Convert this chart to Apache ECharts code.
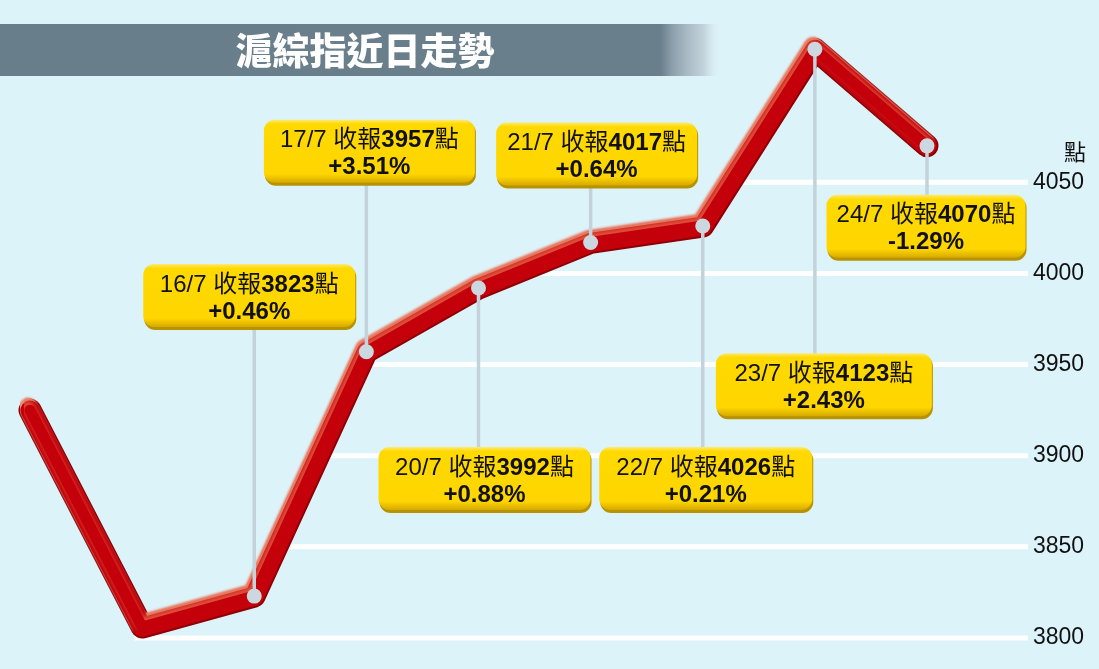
<!DOCTYPE html>
<html>
<head>
<meta charset="utf-8">
<script src="https://cdn.jsdelivr.net/npm/echarts@6/dist/echarts.min.js"></script>
<style>
html,body{margin:0;padding:0;background:#ddf3fa;}
#chart{width:1099px;height:669px;}
</style>
</head>
<body>
<div id="chart"></div>
<script>
// ---- data ----
const dates   = ['14/7','15/7','16/7','17/7','20/7','21/7','22/7','23/7','24/7'];
const closes  = [3925, 3806, 3823, 3957, 3992, 4017, 4026, 4123, 4070];
const changes = [null, null, '+0.46%', '+3.51%', '+0.88%', '+0.64%', '+0.21%', '+2.43%', '-1.29%'];
const yTicks  = [3800, 3850, 3900, 3950, 4000, 4050];
const titleText = '滬綜指近日走勢';
const unitText = '點';

// ---- callout layout (pixel offsets from the point, box width) ----
const calloutLayout = {
  2: {dx: -5,  dy: -332, w: 212},
  3: {dx: 3,   dy: -232, w: 211},
  4: {dx: 6,   dy: 159,  w: 212},
  5: {dx: 6,   dy: -120, w: 201},
  6: {dx: 3,   dy: 221,  w: 213},
  7: {dx: 9,   dy: 304,  w: 216},
  8: {dx: -1,  dy: 49,   w: 199}
};
const BOX_H = 66;
const AXIS_OFFSET = 101;
const FONT = '"Liberation Sans", "Noto Sans CJK TC", sans-serif';

const chart = echarts.init(document.getElementById('chart'));

function gridItem(params, api) {
  const v = api.value(1);
  // rightmost crossing of the price line with this level
  let idx = null;
  for (let i = 0; i < closes.length - 1; i++) {
    const a = closes[i] - v, b = closes[i + 1] - v;
    if (a * b <= 0 && a !== b) {
      idx = i + (v - closes[i]) / (closes[i + 1] - closes[i]);
    }
  }
  if (idx === null) {
    let m = 0;
    for (let i = 1; i < closes.length; i++) if (closes[i] < closes[m]) m = i;
    idx = m - 0.07;
  }
  const i0 = Math.floor(idx), t = idx - i0;
  const pa = api.coord([i0, v]);
  const pb = api.coord([Math.min(i0 + 1, closes.length - 1), v]);
  const x1 = pa[0] + (pb[0] - pa[0]) * t;
  const cs = params.coordSys;
  const x2 = cs.x + cs.width + AXIS_OFFSET;
  return {
    type: 'line',
    shape: {x1: x1, y1: pa[1], x2: x2, y2: pa[1]},
    style: {stroke: '#ffffff', lineWidth: 5}
  };
}

function calloutItem(params, api) {
  const i = api.value(0);
  const p = api.coord([i, api.value(1)]);
  const L = calloutLayout[i];
  const bx = p[0] + L.dx - L.w / 2;
  const by = p[1] + L.dy;
  const above = L.dy < 0;
  const text = '{n|' + dates[i] + ' 收報}{b|' + closes[i] + '}{n|點}\n{p|' + changes[i] + '}';
  return {
    type: 'group',
    children: [
      {type: 'line', shape: {x1: p[0], y1: above ? by + BOX_H - 4 : p[1], x2: p[0], y2: above ? p[1] : by + 4},
       style: {stroke: '#c3d2db', lineWidth: 3.5}},
      {type: 'circle', shape: {cx: p[0], cy: p[1], r: 7.5}, style: {fill: '#cbd8df'}},
      {type: 'rect', shape: {x: bx + 1, y: by + 2, width: L.w, height: BOX_H - 2, r: 11},
       style: {fill: '#b89300'}},
      {type: 'rect', shape: {x: bx, y: by, width: L.w, height: BOX_H - 3, r: 11},
       style: {fill: new echarts.graphic.LinearGradient(0, 0, 0, 1, [
         {offset: 0, color: '#ffea70'},
         {offset: 0.07, color: '#ffd900'},
         {offset: 0.86, color: '#ffd600'},
         {offset: 1, color: '#d6a900'}
       ])}},
      {type: 'text',
       style: {
         text: text, x: bx + L.w / 2, y: by + (BOX_H - 3) / 2 + 3,
         align: 'center', verticalAlign: 'middle',
         textAlign: 'center', textVerticalAlign: 'middle',
         rich: {
           n: {fontSize: 24, fontFamily: FONT, fill: '#111', color: '#111', lineHeight: 27},
           b: {fontSize: 24, fontWeight: 'bold', fontFamily: FONT, fill: '#111', color: '#111', lineHeight: 27},
           p: {fontSize: 24, fontWeight: 'bold', fontFamily: FONT, fill: '#111', color: '#111', lineHeight: 27}
         }
       }}
    ]
  };
}

const option = {
  backgroundColor: '#ddf3fa',
  animation: false,
  grid: {left: 30, right: 172, top: 0, bottom: 31},
  xAxis: {type: 'category', data: dates, boundaryGap: false, show: false},
  yAxis: {
    type: 'value', min: 3800, max: 4150, interval: 50, position: 'right', offset: AXIS_OFFSET,
    axisLine: {show: false}, axisTick: {show: false}, splitLine: {show: false},
    axisLabel: {
      margin: 5, fontSize: 23, color: '#111', fontFamily: '"Liberation Sans", Arial, sans-serif',
      formatter: function (v) { return yTicks.indexOf(v) >= 0 ? String(v) : ''; }
    }
  },
  graphic: [
    {type: 'rect', z: 0, shape: {x: 0, y: 24, width: 722, height: 52},
     style: {fill: new echarts.graphic.LinearGradient(0, 0, 1, 0, [
       {offset: 0, color: '#687e8a'},
       {offset: 0.915, color: '#697f8b'},
       {offset: 0.93, color: '#8a9eaa'},
       {offset: 0.95, color: '#a6b8c2'},
       {offset: 0.975, color: '#c3d3db'},
       {offset: 1, color: 'rgba(221,243,250,0)'}
     ])}},
    {type: 'text', z: 1, style: {
      text: titleText, x: 365, y: 51,
      align: 'center', verticalAlign: 'middle', textAlign: 'center', textVerticalAlign: 'middle',
      fill: '#ffffff', font: '900 37px "Noto Sans CJK TC", sans-serif',
      shadowColor: 'rgba(0,0,0,0.55)', shadowBlur: 2, shadowOffsetX: 1, shadowOffsetY: 1
    }},
    {type: 'text', z: 1, style: {
      text: unitText, x: 1075, y: 152,
      align: 'center', verticalAlign: 'middle', textAlign: 'center', textVerticalAlign: 'middle',
      fill: '#111', font: '22px "Noto Sans CJK TC", sans-serif'
    }}
  ],
  series: [
    {
      type: 'custom', z: 1, clip: false,
      renderItem: gridItem,
      data: yTicks.map(function (v) { return [0, v]; }),
      silent: true
    },
    {
      type: 'line', z: 2, data: closes, symbol: 'none', silent: true,
      lineStyle: {width: 23, color: '#8e0006', cap: 'round', join: 'round'}
    },
    {
      type: 'line', z: 3, data: closes, symbol: 'none', silent: true,
      lineStyle: {width: 19, color: '#c4000b', cap: 'round', join: 'round',
        shadowColor: '#ea8e76', shadowBlur: 2, shadowOffsetX: -2, shadowOffsetY: -3}
    },
    {
      type: 'line', z: 4, data: closes, symbol: 'none', silent: true,
      lineStyle: {width: 11, color: '#c4000b', cap: 'round', join: 'round',
        shadowColor: 'rgba(226,90,66,0.9)', shadowBlur: 4, shadowOffsetX: -2, shadowOffsetY: -4}
    },
    {
      type: 'custom', z: 5, clip: false,
      renderItem: calloutItem,
      data: closes.map(function (v, i) { return [i, v]; }).filter(function (d) { return changes[d[0]] !== null; }),
      silent: true
    }
  ]
};
chart.setOption(option);
</script>
</body>
</html>
